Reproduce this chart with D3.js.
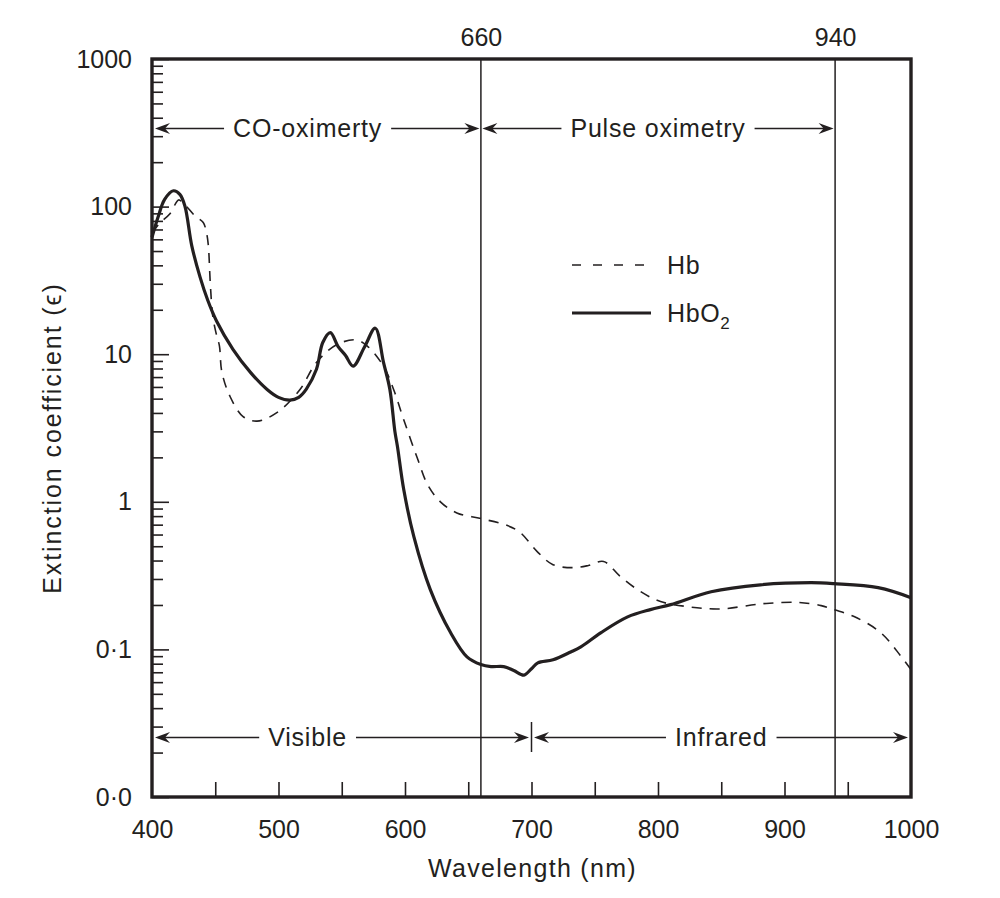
<!DOCTYPE html>
<html><head><meta charset="utf-8">
<script src="https://cdn.jsdelivr.net/npm/d3@7"></script>
<style>
body{margin:0;background:#fff}
text{font-family:"Liberation Sans",Arial,Helvetica,sans-serif;fill:#231f20}
</style>
</head><body>
<svg id="chart" width="1000" height="898"></svg>
<script>
// ---------- data ----------
const hbWavelength = [400,406,414,421,424,427,434,440.5,443,444.5,446,447.5,448.5,451,453.3,455.2,461.7,472,483,499,517,530,546,561,570,583,591,599,610,618,628,641,660,681,691,704.5,717,733,745,757,770,786,802,823,849,883,911,929,939,955,976,992,1000];
const hbValues     = [66,77,89,111,107,101,86.5,78,67,55,31,20,17,13.5,11.4,7.6,5.17,3.78,3.52,4.03,5.77,8.8,11.6,12.5,11.4,8.3,5.77,3.6,1.95,1.3,1.0,0.84,0.77,0.69,0.62,0.46,0.375,0.358,0.37,0.394,0.313,0.247,0.211,0.195,0.188,0.204,0.208,0.198,0.186,0.167,0.130,0.090,0.073];

const hbo2Wavelength = [400,405,410,417,422,426,431.5,438,444,451,464,478,491,500,509,516,522,530,535,541,547,553,559,568,576.5,583,588,592,594,599,607,620,636,649,660,668,678,686,694,700,705,717,731,739,755,776,794,810,842,881,921,939,974,1000];
const hbo2Values     = [62,86,112,128,121,101,54,33.3,23.3,16.8,10.8,7.5,5.77,5.1,4.88,5.1,5.8,7.9,12.0,14.0,11.3,9.8,8.3,11.2,15.0,8.8,5.8,3.0,2.38,1.21,0.58,0.254,0.130,0.089,0.079,0.0765,0.0765,0.072,0.067,0.074,0.081,0.085,0.096,0.104,0.130,0.166,0.186,0.201,0.246,0.274,0.283,0.279,0.262,0.224];

const yMajorTicks  = [1000,100,10,1,0.1,0.01];
const yTickLabels  = ["1000","100","10","1","0·1","0·0"];
const xLabelTicks  = [400,500,600,700,800,900,1000];
const xMinorTicks  = [450,500,550,600,650,700,750,800,850,900,950];
const markerLines  = [660,940];
const topBands     = ["CO-oximerty","Pulse oximetry"];
const topBandFrom  = [400,660];
const topBandTo    = [660,940];
const topBandText  = [523,800];
const bottomBands    = ["Visible","Infrared"];
const bottomBandFrom = [400,700];
const bottomBandTo   = [700,1000];
const bottomBandText = [523,850];
const legendNames  = ["Hb","HbO"];

// ---------- layout ----------
const INK = "#231f20";
const L = 152, R = 911, T = 59, B = 797;
const svg = d3.select("#chart");
const x = d3.scaleLinear().domain([400,1000]).range([L,R]);
const y = d3.scaleLog().domain([0.01,1000]).range([B,T]);
const FS = 25;

// minor y ticks
const yMinor = [];
for (let e=-2;e<3;e++) for (let k=2;k<=9;k++) yMinor.push(k*Math.pow(10,e));

// vertical marker lines
svg.selectAll("line.marker").data(markerLines).join("line")
  .attr("x1",d=>x(d)).attr("x2",d=>x(d)).attr("y1",T).attr("y2",B)
  .attr("stroke",INK).attr("stroke-width",1.5);

// y minor ticks
const gyMinor = svg.append("g").attr("transform",`translate(${L},0)`)
  .call(d3.axisLeft(y).tickValues(yMinor).tickSizeInner(-11).tickSizeOuter(0).tickFormat(""));
gyMinor.select(".domain").remove();
gyMinor.selectAll("line").attr("stroke",INK).attr("stroke-width",1.6);

// y major ticks + labels
const gy = svg.append("g").attr("transform",`translate(${L},0)`)
  .call(d3.axisLeft(y).tickValues(yMajorTicks).tickSizeInner(-17).tickSizeOuter(0).tickPadding(20)
    .tickFormat((d,i)=>yTickLabels[i]));
gy.select(".domain").remove();
gy.selectAll("line").attr("stroke",INK).attr("stroke-width",1.6);
gy.selectAll("text").attr("font-size",FS).attr("font-family",null).attr("fill",INK);

// x minor ticks
const gxMinor = svg.append("g").attr("transform",`translate(0,${B})`)
  .call(d3.axisBottom(x).tickValues(xMinorTicks).tickSizeInner(-15).tickSizeOuter(0).tickFormat(""));
gxMinor.select(".domain").remove();
gxMinor.selectAll("line").attr("stroke",INK).attr("stroke-width",1.6);

// x labels
const gx = svg.append("g").attr("transform",`translate(0,${B})`)
  .call(d3.axisBottom(x).tickValues(xLabelTicks).tickSize(0).tickPadding(23).tickFormat(d3.format("d")));
gx.select(".domain").remove();
gx.selectAll("text").attr("font-size",FS).attr("font-family",null).attr("fill",INK);

// top labels for marker lines
const gt = svg.append("g").attr("transform",`translate(0,${T})`)
  .call(d3.axisTop(x).tickValues(markerLines).tickSize(0).tickPadding(13).tickFormat(d3.format("d")));
gt.select(".domain").remove();
gt.selectAll("text").attr("font-size",FS).attr("font-family",null).attr("fill",INK);

// frame
svg.append("rect").attr("x",L).attr("y",T).attr("width",R-L).attr("height",B-T)
  .attr("fill","none").attr("stroke",INK).attr("stroke-width",3.4);

// axis titles
svg.append("text").attr("x",(L+R)/2 + 1).attr("y",877).attr("text-anchor","middle")
  .attr("font-size",FS).attr("letter-spacing",1.3).text("Wavelength (nm)");
svg.append("text").attr("transform",`translate(61,438) rotate(-90)`).attr("text-anchor","middle")
  .attr("font-size",FS).attr("letter-spacing",1.9).text("Extinction coefficient (ϵ)");

// curves
const line = d3.line().x(d=>x(d[0])).y(d=>y(d[1])).curve(d3.curveCatmullRom.alpha(0.5));
const hbData = hbWavelength.map((w,i)=>[w,hbValues[i]]);
const hbo2Data = hbo2Wavelength.map((w,i)=>[w,hbo2Values[i]]);
svg.append("path").attr("d",line(hbData)).attr("fill","none").attr("stroke",INK)
  .attr("stroke-width",1.6).attr("stroke-dasharray","10,8");
svg.append("path").attr("d",line(hbo2Data)).attr("fill","none").attr("stroke",INK)
  .attr("stroke-width",3.2).attr("stroke-linejoin","round");

// arrows
function arrowHead(tx,ty,dir){
  return `M${tx},${ty}L${tx-dir*15},${ty-5.5}L${tx-dir*10},${ty}L${tx-dir*15},${ty+5.5}Z`;
}
function bandArrow(label,from,to,center,yy,leftInset,rightInset){
  const x0 = x(from)+leftInset, x1 = x(to)-rightInset;
  const t = svg.append("text").attr("x",x(center)).attr("y",yy+8.5).attr("text-anchor","middle")
    .attr("font-size",FS).attr("letter-spacing",0.8).text(label);
  const w = t.node().getComputedTextLength();
  const cx = x(center);
  svg.append("line").attr("x1",x0+4).attr("x2",cx-w/2-9).attr("y1",yy).attr("y2",yy)
    .attr("stroke",INK).attr("stroke-width",1.5);
  svg.append("line").attr("x1",cx+w/2+9).attr("x2",x1-4).attr("y1",yy).attr("y2",yy)
    .attr("stroke",INK).attr("stroke-width",1.5);
  svg.append("path").attr("d",arrowHead(x0,yy,-1)).attr("fill",INK);
  svg.append("path").attr("d",arrowHead(x1,yy,1)).attr("fill",INK);
}
topBands.forEach((b,i)=>bandArrow(b,topBandFrom[i],topBandTo[i],topBandText[i],128.5,
  i===0?3:1.5, 1.5));
bottomBands.forEach((b,i)=>bandArrow(b,bottomBandFrom[i],bottomBandTo[i],bottomBandText[i],737.5,
  i===0?3:2.5, i===0?2.5:3));
// divider at 700
svg.append("line").attr("x1",x(700)).attr("x2",x(700)).attr("y1",722).attr("y2",752)
  .attr("stroke",INK).attr("stroke-width",1.5);

// legend
svg.append("line").attr("x1",572).attr("x2",651).attr("y1",265).attr("y2",265)
  .attr("stroke",INK).attr("stroke-width",1.6).attr("stroke-dasharray","9,12");
svg.append("line").attr("x1",572).attr("x2",651).attr("y1",313).attr("y2",313)
  .attr("stroke",INK).attr("stroke-width",3.2);
svg.append("text").attr("x",667).attr("y",274).attr("font-size",FS).attr("letter-spacing",0.6).text(legendNames[0]);
const lg2 = svg.append("text").attr("x",667).attr("y",322).attr("font-size",FS).attr("letter-spacing",0.6);
lg2.append("tspan").text(legendNames[1]);
lg2.append("tspan").attr("dy",7).attr("font-size",17).text("2");
</script>
</body></html>
